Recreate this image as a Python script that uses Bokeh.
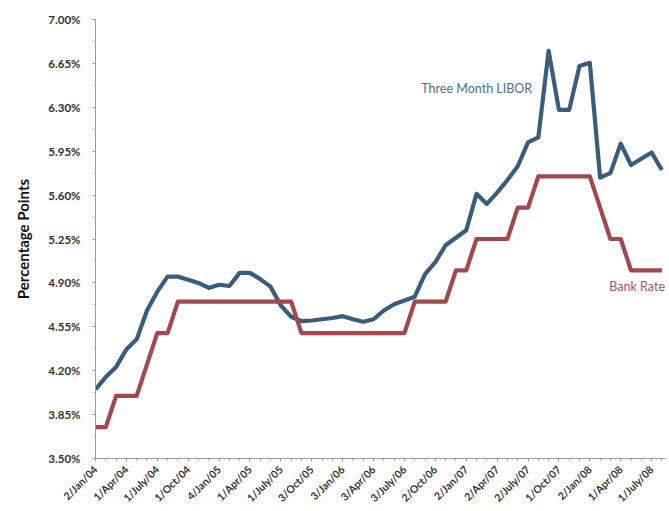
from bokeh.plotting import figure
from bokeh.models import Range1d, FixedTicker, PrintfTickFormatter, Label, ColumnDataSource
from bokeh.embed import file_html
from bokeh.resources import INLINE
import math

# Monthly observations, Jan 2004 .. Aug 2008 (index 0..55)
libor = [4.05, 4.15, 4.23, 4.37, 4.45, 4.68, 4.83, 4.95, 4.95, 4.925,
         4.90, 4.86, 4.885, 4.875, 4.98, 4.98, 4.93, 4.87, 4.72, 4.63,
         4.595, 4.60, 4.61, 4.62, 4.635, 4.61, 4.59, 4.61, 4.68, 4.73,
         4.76, 4.79, 4.97, 5.065, 5.20, 5.26, 5.32, 5.61, 5.53, 5.62,
         5.72, 5.83, 6.02, 6.06, 6.75, 6.28, 6.28, 6.63, 6.655, 5.74,
         5.775, 6.01, 5.84, 5.89, 5.94, 5.80]
bank_rate = [3.75, 3.75, 4.00, 4.00, 4.00, 4.25, 4.50, 4.50, 4.75, 4.75,
             4.75, 4.75, 4.75, 4.75, 4.75, 4.75, 4.75, 4.75, 4.75, 4.75,
             4.50, 4.50, 4.50, 4.50, 4.50, 4.50, 4.50, 4.50, 4.50, 4.50,
             4.50, 4.75, 4.75, 4.75, 4.75, 5.00, 5.00, 5.25, 5.25, 5.25,
             5.25, 5.50, 5.50, 5.75, 5.75, 5.75, 5.75, 5.75, 5.75, 5.50,
             5.25, 5.25, 5.00, 5.00, 5.00, 5.00]
month_index = list(range(len(libor)))

tick_labels = ["2/Jan/04", "1/Apr/04", "1/July/04", "1/Oct/04", "4/Jan/05",
               "1/Apr/05", "1/July/05", "3/Oct/05", "3/Jan/06", "3/Apr/06",
               "3/July/06", "2/Oct/06", "2/Jan/07", "2/Apr/07", "2/July/07",
               "1/Oct/07", "2/Jan/08", "1/Apr/08", "1/July/08"]
tick_index = [0, 3, 6, 9, 12, 15, 18, 21, 24, 27, 30, 33, 36, 39, 42, 45, 48, 51, 54]
y_ticks = [3.50, 3.85, 4.20, 4.55, 4.90, 5.25, 5.60, 5.95, 6.30, 6.65, 7.00]

BLUE = "#3b5c7b"
RED = "#a3484d"

src = ColumnDataSource(dict(x=month_index, libor=libor, bank=bank_rate))

p = figure(width=669, height=511, output_backend="svg", toolbar_location=None,
           x_range=Range1d(0, 55.35), y_range=Range1d(3.5, 7.0),
           min_border_left=95, min_border_right=4, min_border_top=19, min_border_bottom=53)
p.outline_line_color = None
p.xgrid.visible = False
p.ygrid.visible = False
p.background_fill_color = "white"
p.border_fill_color = "white"

p.line("x", "libor", source=src, line_color=BLUE, line_width=4.2, line_join="round")
p.line("x", "bank", source=src, line_color=RED, line_width=4.2, line_join="round")

# y axis
ya = p.yaxis[0]
ya.ticker = FixedTicker(ticks=y_ticks,
                        minor_ticks=[round(t + 0.175, 3) for t in y_ticks[:-1]])
ya.formatter = PrintfTickFormatter(format="%.2f%%")
ya.axis_line_color = "#9a9a9a"
ya.major_tick_line_color = "#9a9a9a"
ya.minor_tick_line_color = "#b0b0b0"
ya.major_tick_out = 3
ya.major_tick_in = 0
ya.minor_tick_out = 2
ya.minor_tick_in = 0
ya.major_label_standoff = 12
ya.major_label_text_font = "Lato"
ya.major_label_text_font_style = "bold"
ya.major_label_text_font_size = "11.5px"
ya.major_label_text_color = "#333333"
ya.axis_label = "Percentage Points"
ya.axis_label_text_font = "Lato"
ya.axis_label_text_font_style = "bold"
ya.axis_label_text_font_size = "15px"
ya.axis_label_text_color = "#111111"
ya.axis_label_standoff = 13

# x axis
xa = p.xaxis[0]
xa.ticker = FixedTicker(ticks=tick_index, minor_ticks=month_index)
xa.major_label_overrides = {i: s for i, s in zip(tick_index, tick_labels)}
xa.major_label_orientation = math.pi / 4
xa.axis_line_color = "#9a9a9a"
xa.major_tick_line_color = "#9a9a9a"
xa.minor_tick_line_color = "#9a9a9a"
xa.major_tick_out = 3
xa.major_tick_in = 0
xa.minor_tick_out = 2
xa.minor_tick_in = 0
xa.major_label_standoff = 6
xa.major_label_text_font = "Lato"
xa.major_label_text_font_style = "bold"
xa.major_label_text_font_size = "10.5px"
xa.major_label_text_color = "#333333"

p.add_layout(Label(x=42.4, y=6.45, text="Three Month LIBOR", text_align="right",
                   text_baseline="middle", text_font="Lato", text_font_size="12.5px",
                   text_color="#4f6d8c"))
p.add_layout(Label(x=55.3, y=4.87, text="Bank Rate", text_align="right",
                   text_baseline="middle", text_font="Lato", text_font_size="12.5px",
                   text_color="#a65a5c"))

open("out.html", "w").write(file_html(p, INLINE))
